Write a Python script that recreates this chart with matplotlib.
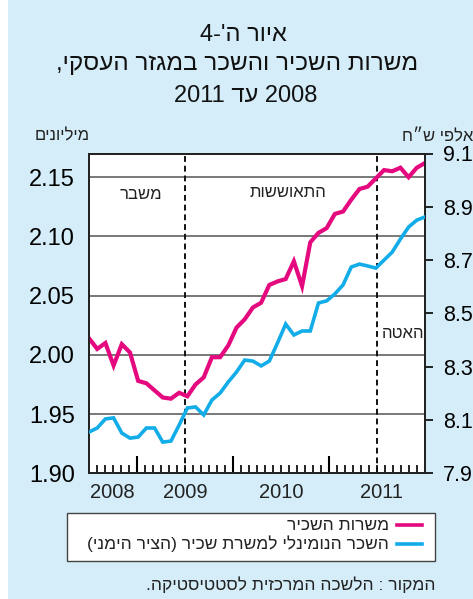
import re
import numpy as np
import matplotlib
matplotlib.use("Agg")
import matplotlib.pyplot as plt
from matplotlib.patches import Rectangle
from matplotlib.lines import Line2D

plt.rcParams['font.family'] = ['Liberation Sans', 'DejaVu Sans']

# ---------------- data ----------------
employee_posts = [2.014, 2.005, 2.010, 1.991, 2.009, 2.002, 1.978, 1.976, 1.970, 1.964,
                  1.963, 1.968, 1.965, 1.975, 1.981, 1.998, 1.998, 2.008, 2.023, 2.030,
                  2.040, 2.044, 2.059, 2.062, 2.064, 2.079, 2.058, 2.095, 2.103, 2.107,
                  2.119, 2.121, 2.131, 2.140, 2.142, 2.149, 2.156, 2.155, 2.158, 2.150,
                  2.158, 2.162]
nominal_wage = [8.055, 8.070, 8.104, 8.108, 8.051, 8.032, 8.036, 8.070, 8.070, 8.017,
                8.021, 8.081, 8.145, 8.149, 8.119, 8.175, 8.201, 8.243, 8.280, 8.325,
                8.321, 8.303, 8.321, 8.389, 8.460, 8.419, 8.434, 8.434, 8.539, 8.547,
                8.573, 8.607, 8.674, 8.685, 8.678, 8.670, 8.700, 8.730, 8.779, 8.824,
                8.850, 8.862]
year_labels = ['2008', '2009', '2010', '2011']
left_ticks = [1.90, 1.95, 2.00, 2.05, 2.10, 2.15]
right_ticks = [7.9, 8.1, 8.3, 8.5, 8.7, 8.9, 9.1]

title_lines = ["איור ה'-4", "משרות השכיר והשכר במגזר העסקי,", "2008 עד 2011"]
left_unit = "מיליונים"
right_unit = "אלפי ש״ח"
phase_labels = ["משבר", "התאוששות", "האטה"]
legend_labels = ["משרות השכיר", "השכר הנומינלי למשרת שכיר (הציר הימני)"]
source_text = "המקור : הלשכה המרכזית לסטטיסטיקה."


def vis(s):
    """logical RTL string -> visual (LTR drawing) order"""
    r = s[::-1]
    r = re.sub(r'[0-9][0-9.]*[0-9]|[0-9]', lambda m: m.group(0)[::-1], r)
    return r.translate(str.maketrans('()', ')('))


PINK = '#e5097f'
BLUE = '#12ade8'
BG = '#d4edf9'
GRID = '#6d6d6d'

W, H = 473, 599
fig = plt.figure(figsize=(W / 100, H / 100), dpi=100)
fig.patches.append(Rectangle((8 / W, 0), (W - 8) / W, 1, transform=fig.transFigure,
                             facecolor=BG, edgecolor='none', zorder=-10))

ax = fig.add_axes([89 / W, (H - 473.3) / H, 336 / W, 319.8 / H])
ax.set_facecolor('white')
n = len(employee_posts)
x = np.linspace(0, 42, n)   # months since Jan 2008, spanning to Jul 2011

ax.set_xlim(0, 42)
ax.set_ylim(1.90, 2.17)
for v in left_ticks[1:]:
    ax.axhline(v, color=GRID, lw=1.3, zorder=1)
for m in (12, 36):
    ax.axvline(m, color='#111111', lw=1.4, ls=(0, (3, 2)), zorder=2)

ax.plot(x, employee_posts, color=PINK, lw=3.0, zorder=4, solid_joinstyle='miter')
ax.set_yticks(left_ticks)
ax.set_yticklabels([f"{v:.2f}" for v in left_ticks], fontsize=17)
ax.tick_params(axis='y', length=0, pad=10)

ax.set_xticks([6, 18, 30])
ax.set_xticks([m for m in range(1, 42) if m % 6 != 0 or m in (12, 24, 36)], minor=True)
ax.tick_params(axis='x', which='major', direction='in', length=12, width=1.5,
               labelbottom=False)
ax.tick_params(axis='x', which='minor', direction='in', length=6, width=1.2)

for sp in ax.spines.values():
    sp.set_color('#222222')
    sp.set_linewidth(1.3)

ax2 = ax.twinx()
ax2.set_ylim(7.9, 9.1)
ax2.plot(x, nominal_wage, color=BLUE, lw=2.6, zorder=3, solid_joinstyle='miter')
ax2.set_yticks(right_ticks)
ax2.set_yticklabels([f"{v:.1f}" for v in right_ticks], fontsize=15.5)
ax2.tick_params(axis='y', direction='out', length=6, width=1.2, pad=7)
for sp in ax2.spines.values():
    sp.set_color('#222222')
    sp.set_linewidth(1.3)
ax2.set_zorder(ax.get_zorder() + 1)
ax2.patch.set_visible(False)

# year labels
for lab, pos in zip(year_labels, [2.9, 12, 24, 36.5]):
    ax.text(pos, -0.03, lab, transform=ax.get_xaxis_transform(), ha='center',
            va='top', fontsize=14.5, color='#222222')

# phase labels
ax.text(6.5, 2.1355, vis(phase_labels[0]), ha='center', va='center', fontsize=12, color='#222222')
ax.text(24.9, 2.1372, vis(phase_labels[1]), ha='center', va='center', fontsize=12, color='#222222')
ax.text(39.3, 2.018, vis(phase_labels[2]), ha='center', va='center', fontsize=12, color='#222222')

# units
fig.text(62 / W, 1 - 136 / H, vis(left_unit), ha='center', va='center', fontsize=12, color='#222222')
fig.text(473 / W, 1 - 137 / H, vis(right_unit), ha='right', va='center', fontsize=12, color='#222222')

# title
fig.text(243 / W, 1 - 35 / H, vis(title_lines[0]), ha='center', va='center', fontsize=17, color='#111111')
fig.text(237 / W, 1 - 64 / H, vis(title_lines[1]), ha='center', va='center', fontsize=17.5, color='#111111')
fig.text(246 / W, 1 - 96 / H, vis(title_lines[2]), ha='center', va='center', fontsize=17, color='#111111')

# legend box
fig.patches.append(Rectangle((67 / W, 1 - 561 / H), 368 / W, 48 / H, transform=fig.transFigure,
                             facecolor='white', edgecolor='#444444', lw=1.0, zorder=5))
for i, (lab, col) in enumerate(zip(legend_labels, [PINK, BLUE])):
    yy = 1 - (525 + 19 * i) / H
    fig.lines.append(Line2D([397 / W, 422 / W], [yy, yy], transform=fig.transFigure,
                            color=col, lw=2.6, zorder=6))
    fig.text(389 / W, yy, vis(lab), ha='right', va='center', fontsize=12.5,
             color='#222222', zorder=6)

fig.text(435 / W, 1 - 585 / H, vis(source_text), ha='right', va='center', fontsize=12.5,
         color='#222222')

fig.savefig('out.png', dpi=100, facecolor='white')
